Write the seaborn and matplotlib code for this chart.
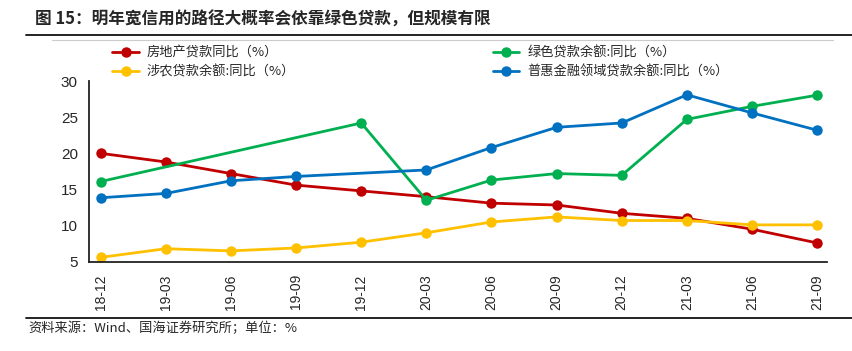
import numpy as np
import pandas as pd
import matplotlib
matplotlib.use('Agg')
import matplotlib.pyplot as plt
from matplotlib.lines import Line2D
import seaborn as sns

# data
dates = ['18-12', '19-03', '19-06', '19-09', '19-12', '20-03',
         '20-06', '20-09', '20-12', '21-03', '21-06', '21-09']
real_estate = [20.0, 18.8, 17.2, 15.6, 14.8, 14.0, 13.1, 12.85, 11.7, 11.0, 9.5, 7.6]
agri = [5.6, 6.8, 6.5, 6.9, 7.7, 9.0, 10.5, 11.2, 10.7, 10.7, 10.1, 10.1]
green = [16.1, None, None, None, 24.2, 13.5, 16.3, 17.2, 16.95, 24.7, 26.5, 28.05]
inclusive = [13.85, 14.45, 16.2, 16.8, None, 17.7, 20.8, 23.6, 24.2, 28.1, 25.6, 23.2]

names = ['房地产贷款同比（%）', '涉农贷款余额:同比（%）',
         '绿色贷款余额:同比（%）', '普惠金融领域贷款余额:同比（%）']
colors = ['#C00000', '#FFC000', '#00B050', '#0070C0']
series = [real_estate, agri, green, inclusive]

title = '图 15：明年宽信用的路径大概率会依靠绿色贷款，但规模有限'
source = '资料来源：Wind、国海证券研究所；单位：%'

sns.set_style('white')
plt.rcParams['font.family'] = ['Liberation Sans', 'Noto Sans CJK SC']
cjk = ['Noto Sans CJK SC', 'DejaVu Sans']

rows = []
for name, vals in zip(names, series):
    for i, v in enumerate(vals):
        if v is not None:
            rows.append({'x': i, 'value': v, 'series': name})
df = pd.DataFrame(rows)

fig = plt.figure(figsize=(8.52, 3.51), dpi=100)
ax = fig.add_axes([0.1045, 0.2544, 0.866, 0.5146])

for name, c in zip(names, colors):
    sub = df[df['series'] == name]
    sns.lineplot(data=sub, x='x', y='value', color=c, marker='o', markersize=7.5,
                 markeredgewidth=0, linewidth=2, label=name, ax=ax, legend=False)

ax.set_xlim(-0.18, 11.15)
ax.set_ylim(5, 30)
ax.set_yticks(np.arange(5, 31, 5))
ax.set_xticks(np.arange(len(dates)) - 0.17)
ax.set_xticklabels([])
ax.set_xticks(np.arange(len(dates)), minor=True)
ax.set_xticklabels(dates, minor=True, rotation=90, fontsize=10)
ax.tick_params(axis='x', which='minor', length=0, pad=9)
ax.tick_params(axis='x', which='major', direction='out', length=5, width=1.2, color='#222222')
ax.tick_params(axis='y', direction='out', length=5, width=1.2, color='#222222',
               labelsize=11, pad=3)
ax.set_xlabel('')
ax.set_ylabel('')
for s in ['top', 'right']:
    ax.spines[s].set_visible(False)
for s in ['left', 'bottom']:
    ax.spines[s].set_color('#222222')
    ax.spines[s].set_linewidth(1.3)

handles, labels = ax.get_legend_handles_labels()
fig.legend(handles, labels, ncol=2, loc='center left', bbox_to_anchor=(0.132, 0.823),
           frameon=False, prop={'family': cjk, 'size': 9.5}, handlelength=2.0,
           handletextpad=0.6, columnspacing=15, labelspacing=0.45,
           borderpad=0, borderaxespad=0)

fig.text(0.041, 0.943, title, family=cjk, fontsize=12, fontweight='bold', va='center')
fig.text(0.033, 0.063, source, family=cjk, fontsize=9.5, va='center')

fig.add_artist(Line2D([0.031, 1.0], [0.900, 0.900], color='#111111', lw=1.3,
                      transform=fig.transFigure))
fig.add_artist(Line2D([0.061, 0.978], [0.886, 0.886], color='#cccccc', lw=0.8,
                      transform=fig.transFigure))
fig.add_artist(Line2D([0.031, 1.0], [0.094, 0.094], color='#111111', lw=1.3,
                      transform=fig.transFigure))

fig.savefig('out.png', dpi=100)
